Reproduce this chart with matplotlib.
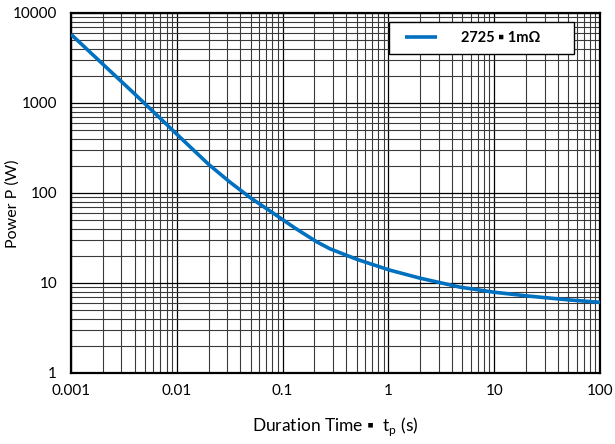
import matplotlib
matplotlib.use("Agg")
import matplotlib.pyplot as plt
from matplotlib.patches import Rectangle
from matplotlib.ticker import LogLocator, FixedLocator, NullFormatter

# =====================================================
# DATA
# =====================================================
duration_s = [0.001, 0.002, 0.004, 0.00775, 0.01, 0.02, 0.0318, 0.05, 0.081,
              0.13, 0.211, 0.28, 0.505, 1.03, 2, 4.75, 10, 20, 50, 100]
power_w = [5800, 2700, 1260, 600, 450, 208, 132, 88, 60,
           41, 28.6, 24.0, 18.3, 13.9, 11.3, 9.0, 7.9, 7.2, 6.5, 6.1]

x_ticks = [0.001, 0.01, 0.1, 1, 10, 100]
x_labels = ["0.001", "0.01", "0.1", "1", "10", "100"]
y_ticks = [1, 10, 100, 1000, 10000]
y_labels = ["1", "10", "100", "1000", "10000"]

series_name = "2725 \u25aa 1m\u03a9"

plt.rcParams["font.family"] = ["Lato", "DejaVu Sans"]

fig = plt.figure(figsize=(6.15, 4.44), dpi=100)
ax = fig.add_axes([71 / 615, 1 - 373 / 444, 529 / 615, 360 / 444])

ax.set_xscale("log")
ax.set_yscale("log")
ax.set_xlim(0.001, 100)
ax.set_ylim(1, 10000)

ax.plot(duration_s, power_w, color="#0070C0", lw=2.6,
        solid_capstyle="butt", solid_joinstyle="round",
        label=series_name, zorder=3)

ax.xaxis.set_major_locator(FixedLocator(x_ticks))
ax.set_xticklabels(x_labels)
ax.yaxis.set_major_locator(FixedLocator(y_ticks))
ax.set_yticklabels(y_labels)
ax.xaxis.set_minor_locator(LogLocator(base=10, subs=range(2, 10), numticks=20))
ax.yaxis.set_minor_locator(LogLocator(base=10, subs=range(2, 10), numticks=20))
ax.xaxis.set_minor_formatter(NullFormatter())
ax.yaxis.set_minor_formatter(NullFormatter())

ax.grid(True, which="major", color="black", lw=0.9)
ax.grid(True, which="minor", color="#3a3a3a", lw=0.8)
ax.tick_params(which="both", length=0, labelsize=11, colors="black")
ax.tick_params(axis="x", pad=8)
ax.tick_params(axis="y", pad=10)

for s in ax.spines.values():
    s.set_linewidth(1.6)
    s.set_color("black")

ax.set_xlabel("Duration Time \u25aa  t$_\\mathregular{p}$ (s)", fontsize=12.5)
ax.xaxis.set_label_coords(0.5, -(415 - 373) / 360)
ax.set_ylabel("Power P (W)", fontsize=11.5)
ax.yaxis.set_label_coords(-(71 - 20) / 529, 0.47)

# legend box drawn by hand so it can be wider than its contents
box = Rectangle((0.601, 0.886), 0.350, 0.089, transform=ax.transAxes,
                facecolor="white", edgecolor="black", lw=1.0, zorder=4)
ax.add_patch(box)
leg = ax.legend(loc="center left", bbox_to_anchor=(0.632, 0.931), borderaxespad=0,
                borderpad=0, frameon=False, prop={"weight": "bold", "size": 10.5},
                handlelength=2.2, handletextpad=1.6)
leg.set_zorder(5)

fig.savefig("out.png", dpi=100)
